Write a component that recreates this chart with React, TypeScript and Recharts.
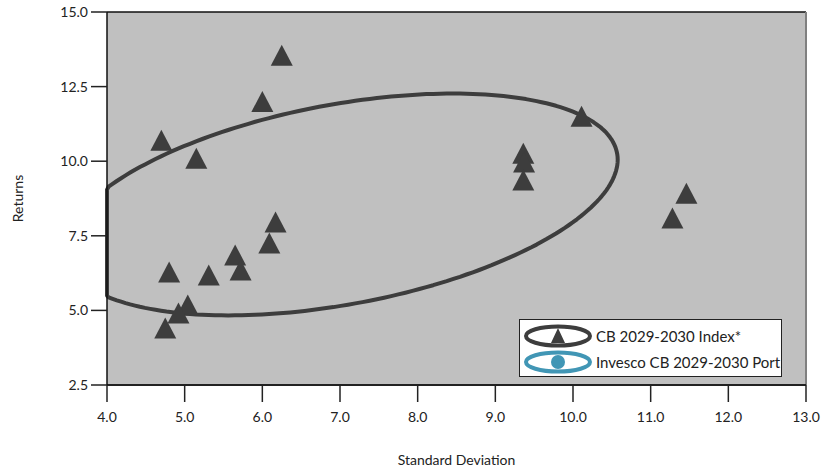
import { ScatterChart, Scatter, XAxis, YAxis, CartesianGrid, ReferenceLine, ReferenceArea } from 'recharts';

// Standard deviation (x) and returns (y) of the index constituents
const stdDev = [6.25, 6.0, 4.7, 5.15, 6.17, 6.09, 4.8, 5.31, 5.65, 5.72, 5.04, 4.92, 4.75, 10.11, 9.36, 9.37, 9.36, 11.46, 11.28];
const returns = [13.55, 12.0, 10.7, 10.1, 7.96, 7.26, 6.29, 6.19, 6.86, 6.35, 5.18, 4.91, 4.41, 11.51, 10.27, 9.97, 9.37, 8.93, 8.1];
const points = stdDev.map((x, i) => ({ x, y: returns[i] }));

const xTicks = [4, 5, 6, 7, 8, 9, 10, 11, 12, 13];
const yTicks = [2.5, 5, 7.5, 10, 12.5, 15];

// ellipse around the index points, in data units
const ellCx = 7.01;
const ellCy = 8.55;
const ellAx = 3.565; // half width
const ellK = 1.5; // tilt
const ellM = 3.4;
const ellAy = Math.sqrt(ellK * ellK + ellM * ellM);

const DARK = '#3d3d3d';
const TEAL = '#4196b5';
const FONT = 'Lato, "Open Sans", sans-serif';

function Triangle(props: any) {
  const { cx, cy } = props;
  const w = 22;
  const h = 21;
  return (
    <polygon
      points={`${cx},${cy - h / 2} ${cx + w / 2},${cy + h / 2} ${cx - w / 2},${cy + h / 2}`}
      fill={DARK}
    />
  );
}

// box spans x from the axis minimum to the ellipse's right edge, y over full ellipse height
function EllipseShape(props: any) {
  const { x, y, width, height } = props;
  const pxPerUnit = width / (ellCx + ellAx - 4);
  const right = x + width;
  const pcx = right - ellAx * pxPerUnit;
  const pcy = y + height / 2;
  const ppy = height / 2 / ellAy;
  const pts: string[] = [];
  for (let i = 0; i <= 240; i++) {
    const t = (i / 240) * Math.PI * 2;
    let px = pcx + ellAx * pxPerUnit * Math.cos(t);
    if (px < x) px = x;
    const py = pcy - (ellK * Math.cos(t) + ellM * Math.sin(t)) * ppy;
    pts.push(`${px.toFixed(1)},${py.toFixed(1)}`);
  }
  return <polygon points={pts.join(' ')} fill="none" stroke={DARK} strokeWidth={4} strokeLinejoin="round" />;
}

function LegendBox() {
  return (
    <div
      style={{
        position: 'absolute', left: 519, top: 319, width: 261, height: 56,
        background: '#fff', border: '1px solid #222', fontFamily: FONT, fontSize: 15, color: '#222',
      }}
    >
      <div style={{ position: 'absolute', left: 3, top: 4, display: 'flex', alignItems: 'center', height: 24 }}>
        <svg width={70} height={24}>
          <ellipse cx={35} cy={12} rx={32} ry={9.5} fill="none" stroke={DARK} strokeWidth={4} />
          <polygon points="35,4 42,19 28,19" fill={DARK} />
        </svg>
        <span style={{ marginLeft: 3 }}>CB 2029-2030 Index*</span>
      </div>
      <div style={{ position: 'absolute', left: 3, top: 30, display: 'flex', alignItems: 'center', height: 24 }}>
        <svg width={70} height={24}>
          <ellipse cx={35} cy={12} rx={32} ry={9.5} fill="none" stroke={TEAL} strokeWidth={4} />
          <circle cx={35} cy={12} r={7} fill={TEAL} />
        </svg>
        <span style={{ marginLeft: 3 }}>Invesco CB 2029-2030 Port</span>
      </div>
    </div>
  );
}

export default function App() {
  const tick = { fontSize: 14, fill: '#222', fontFamily: FONT };
  return (
    <div style={{ position: 'absolute', left: 0, top: 0, width: 836, height: 473, fontFamily: FONT }}>
      <ScatterChart width={836} height={473} margin={{ top: 12, right: 30, bottom: 0, left: 0 }}>
        <CartesianGrid horizontal={false} vertical={false} fill="#c0c0c0" />
        <XAxis
          type="number" dataKey="x" domain={[4, 13]} ticks={xTicks} height={88}
          tickFormatter={(v) => v.toFixed(1)} tick={tick} tickSize={17} tickMargin={10}
          axisLine={{ stroke: '#222', strokeWidth: 2 }} tickLine={{ stroke: '#222', strokeWidth: 1.5 }}
          label={{ value: 'Standard Deviation', position: 'insideBottom', offset: 8, style: { fontSize: 14, fill: '#222', fontFamily: FONT } }}
        />
        <YAxis
          type="number" dataKey="y" domain={[2.5, 15]} ticks={yTicks} width={107}
          tickFormatter={(v) => v.toFixed(1)} tick={tick} tickSize={16} tickMargin={3}
          axisLine={{ stroke: '#111', strokeWidth: 1.5 }} tickLine={{ stroke: '#222', strokeWidth: 1.5 }}
          label={{ value: 'Returns', angle: -90, position: 'insideLeft', offset: 18, style: { textAnchor: 'middle', fontSize: 14, fill: '#222', fontFamily: FONT } }}
        />
        <ReferenceLine y={15} stroke="#111" strokeWidth={1.5} />
        <ReferenceLine x={13} stroke="#808080" strokeWidth={2} />
        <ReferenceArea
          x1={4} x2={ellCx + ellAx} y1={ellCy - ellAy} y2={ellCy + ellAy}
          ifOverflow="visible" shape={<EllipseShape />}
        />
        <Scatter data={points} shape={<Triangle />} isAnimationActive={false} />
      </ScatterChart>
      <LegendBox />
    </div>
  );
}
